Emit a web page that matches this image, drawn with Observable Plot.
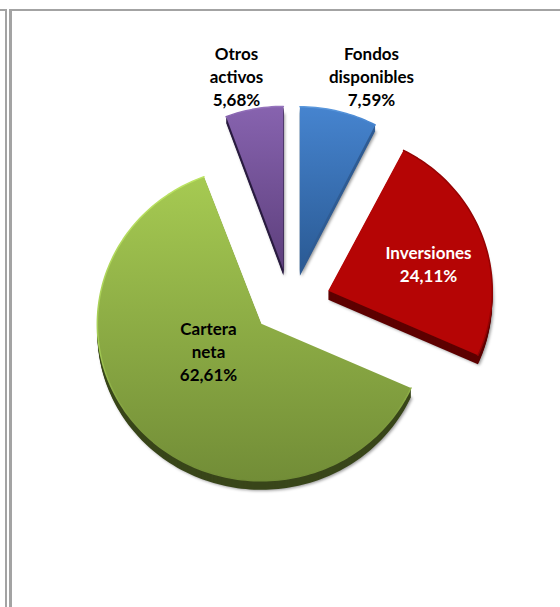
<!DOCTYPE html>
<html>
<head>
<meta charset="utf-8">
<script src="https://cdn.jsdelivr.net/npm/d3@7"></script>
<script src="https://cdn.jsdelivr.net/npm/@observablehq/plot@0.6"></script>
<style>
html,body{margin:0;padding:0;background:#fff;overflow:hidden}
#wrap{position:relative;width:560px;height:607px}
#wrap svg{position:absolute;left:0;top:0;background:transparent}
.fr{position:absolute;background:#a3a3a3}
</style>
</head>
<body>
<div id="wrap">
<div class="fr" style="left:0;top:9px;width:7px;height:2px"></div>
<div class="fr" style="left:5px;top:9px;width:2px;height:598px"></div>
<div class="fr" style="left:9px;top:9px;width:3px;height:598px"></div>
<div class="fr" style="left:9px;top:9px;width:551px;height:2px"></div>
</div>
<script>
const categories = ["Fondos disponibles", "Inversiones", "Cartera neta", "Otros activos"];
const shares = [7.59, 24.11, 62.61, 5.68];
const labelLines = [["Fondos","disponibles","7,59%"],["Inversiones","24,11%"],["Cartera","neta","62,61%"],["Otros","activos","5,68%"]];

// layout, in pixels around the pie's centre
const radiusX = 164, explodeX = 40, explodeY = 32.6;
const radiusY = [163, 158, 157, 163];
const depths = [6, 9, 9, 6];
const tops = ["url(#g0)","#b50505","url(#g2)","url(#g3)"];
const sides = ["#2f5c94","#5e0000","#39461a","#2b1d42"];
const rims = ["url(#r0)","#950303","url(#r2)","url(#r3)"];
const labelAt = [[81,-247],[138,-48],[-82,28],[-54,-247]];
const labelFill = ["#000","#fff","#000","#000"];

const total = d3.sum(shares);
let acc = 0;
const slices = categories.map((name, i) => {
  const a0 = acc / total * 2 * Math.PI;
  acc += shares[i];
  const a1 = acc / total * 2 * Math.PI;
  const mid = (a0 + a1) / 2;
  const cx = explodeX * Math.sin(mid), cy = -explodeY * Math.cos(mid);
  const steps = Math.max(4, Math.ceil((a1 - a0) * 40));
  const arc = [];
  for (let k = 0; k <= steps; k++) {
    const a = a0 + (a1 - a0) * k / steps;
    arc.push([cx + radiusX * Math.sin(a), cy - radiusY[i] * Math.cos(a)]);
  }
  return {i, name, arc, pts: [[cx, cy], ...arc, [cx, cy]]};
});
const rows = (pts, dy = 0, dx = 0) => pts.map(([x, y]) => ({x: x + dx, y: y + dy}));

function withFilter(id) {
  return (index, scales, values, dimensions, context, next) => {
    const g = next(index, scales, values, dimensions, context);
    g.setAttribute("filter", `url(#${id})`);
    return g;
  };
}

const defs = () => {
  const d = d3.create("svg:defs");
  const grads = [
    ["g0","#4684cf","#2a5a94"],["g2","#a6ca52","#728d37"],["g3","#8763af","#5d3f7c"],
    ["r0","#5b98dc","#4684cf"],["r3","#9675bd","#8763af"]
  ];
  for (const [id,a,b] of grads) {
    const g = d.append("linearGradient").attr("id",id).attr("gradientUnits","objectBoundingBox").attr("x1",0).attr("y1",0).attr("x2",0).attr("y2",1);
    g.append("stop").attr("offset",0).attr("stop-color",a);
    g.append("stop").attr("offset",1).attr("stop-color",b);
  }
  const r2 = d.append("linearGradient").attr("id","r2").attr("x1",0).attr("y1",0).attr("x2",0).attr("y2",1);
  r2.append("stop").attr("offset",0).attr("stop-color","#bce463");
  r2.append("stop").attr("offset",0.55).attr("stop-color","#a5cc55");
  r2.append("stop").attr("offset",0.8).attr("stop-color","#7f9c3e");
  r2.append("stop").attr("offset",1).attr("stop-color","#708b36");
  d.append("filter").attr("id","soft").attr("x","-20%").attr("y","-20%").attr("width","140%").attr("height","140%")
    .append("feGaussianBlur").attr("stdDeviation",1.6);
  return d.node();
};

const marks = [defs];
for (const s of slices) {
  const depth = depths[s.i];
  marks.push(Plot.line(rows(s.pts, depth + 1, 1.5), {x:"x", y:"y", fill:"#000", fillOpacity:0.4, stroke:"none", curve:"linear", render: withFilter("soft")}));
  for (let dy = depth; dy >= 1; dy--) {
    marks.push(Plot.line(rows(s.pts, dy), {x:"x", y:"y", fill:sides[s.i], stroke:"none", curve:"linear"}));
  }
  marks.push(Plot.line(rows(s.pts), {x:"x", y:"y", fill:tops[s.i], stroke:"none", curve:"linear"}));
  marks.push(Plot.line(rows(s.arc), {x:"x", y:"y", stroke:rims[s.i], strokeWidth:1.5, curve:"linear", fill:"none"}));
}
const lineHeight = 22.8;
const labelRows = labelLines.flatMap((lines, i) => lines.map((text, k) => ({
  text, x: labelAt[i][0], y: labelAt[i][1] + k * lineHeight, fill: labelFill[i]
})));
marks.push(Plot.text(labelRows, {x:"x", y:"y", text:"text", fill:"fill", fontSize:17, fontWeight:700, fontFamily:"Lato", textAnchor:"middle", lineAnchor:"middle"}));

const chart = Plot.plot({
  width:560, height:607, margin:0,
  style:{background:"transparent", overflow:"visible"},
  x:{domain:[-290,270], range:[0,560], axis:null},
  y:{domain:[-301,306], range:[0,607], axis:null},
  marks
});
document.getElementById("wrap").appendChild(chart);
</script>
</body>
</html>
